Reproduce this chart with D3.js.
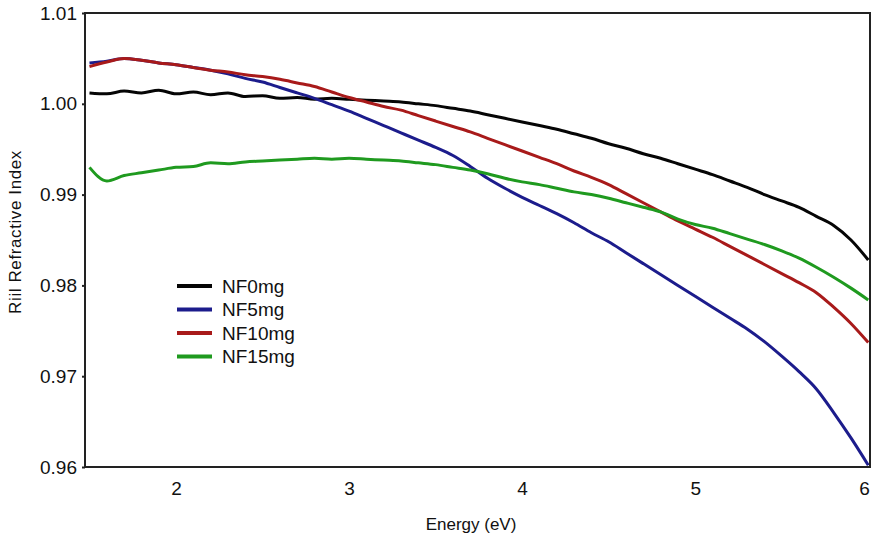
<!DOCTYPE html>
<html>
<head>
<meta charset="utf-8">
<script src="https://cdn.jsdelivr.net/npm/d3@7"></script>
<style>
  body { margin: 0; background: #fff; }
  text { font-family: "Liberation Sans", Arial, sans-serif; fill: #111; }
</style>
</head>
<body>
<script>
// energy grid (eV) shared by all series
var energy = [1.5, 1.6, 1.7, 1.8, 1.9, 2.0, 2.1, 2.2, 2.3, 2.4,
              2.5, 2.6, 2.7, 2.8, 2.9, 3.0, 3.1, 3.2, 3.3, 3.4,
              3.5, 3.6, 3.7, 3.8, 3.9, 4.0, 4.1, 4.2, 4.3, 4.4,
              4.5, 4.6, 4.7, 4.8, 4.9, 5.0, 5.1, 5.2, 5.3, 5.4,
              5.5, 5.6, 5.7, 5.8, 5.9, 6.0];

var nf0 = [1.0012, 1.0011, 1.0014, 1.0012, 1.0015, 1.0011, 1.0013, 1.0010, 1.0012, 1.0008,
           1.0009, 1.0006, 1.0007, 1.0005, 1.0006, 1.0005, 1.0004, 1.0003, 1.0002, 1.0000,
           0.9998, 0.9995, 0.9992, 0.9988, 0.9984, 0.9980, 0.9976, 0.9972, 0.9967, 0.9962,
           0.9956, 0.9951, 0.9945, 0.9940, 0.9934, 0.9928, 0.9922, 0.9915, 0.9908, 0.9900,
           0.9893, 0.9886, 0.9876, 0.9866, 0.9850, 0.9828];

var nf5 = [1.0045, 1.0047, 1.0050, 1.0048, 1.0045, 1.0043, 1.0040, 1.0037, 1.0033, 1.0028,
           1.0024, 1.0018, 1.0012, 1.0006, 0.9999, 0.9992, 0.9984, 0.9976, 0.9968, 0.9960,
           0.9952, 0.9943, 0.9931, 0.9918, 0.9907, 0.9897, 0.9888, 0.9879, 0.9869, 0.9858,
           0.9848, 0.9836, 0.9824, 0.9812, 0.9800, 0.9788, 0.9776, 0.9764, 0.9752, 0.9738,
           0.9722, 0.9705, 0.9686, 0.9660, 0.9632, 0.9602];

var nf10 = [1.0041, 1.0046, 1.0050, 1.0048, 1.0045, 1.0043, 1.0040, 1.0037, 1.0035, 1.0032,
            1.0030, 1.0027, 1.0023, 1.0019, 1.0013, 1.0007, 1.0002, 0.9997, 0.9993, 0.9987,
            0.9981, 0.9975, 0.9969, 0.9962, 0.9955, 0.9948, 0.9941, 0.9934, 0.9926, 0.9919,
            0.9911, 0.9901, 0.9891, 0.9881, 0.9871, 0.9862, 0.9853, 0.9843, 0.9833, 0.9823,
            0.9813, 0.9803, 0.9792, 0.9776, 0.9758, 0.9737];

var nf15 = [0.9930, 0.9915, 0.9921, 0.9924, 0.9927, 0.9930, 0.9931, 0.9935, 0.9934, 0.9936,
            0.9937, 0.9938, 0.9939, 0.9940, 0.9939, 0.9940, 0.9939, 0.9938, 0.9937, 0.9935,
            0.9933, 0.9930, 0.9927, 0.9923, 0.9918, 0.9914, 0.9911, 0.9907, 0.9903, 0.9900,
            0.9896, 0.9891, 0.9886, 0.9881, 0.9873, 0.9867, 0.9863, 0.9857, 0.9851, 0.9845,
            0.9838, 0.9830, 0.9820, 0.9809, 0.9797, 0.9784];

var seriesNames = ["NF0mg", "NF5mg", "NF10mg", "NF15mg"];
var seriesValues = [nf0, nf5, nf10, nf15];
var seriesColors = ["#050505", "#1c1c8c", "#a81a1a", "#1f9a1f"];

var xTicks = [2, 3, 4, 5, 6];
var yTicks = [0.96, 0.97, 0.98, 0.99, 1.00, 1.01];

var width = 872,
    height = 542,
    plotLeft = 85, plotTop = 13, plotRight = 870, plotBottom = 467;

var svg = d3.select("body").append("svg")
    .attr("width", width)
    .attr("height", height);

var x = d3.scaleLinear().domain([1.474, 6.01]).range([plotLeft, plotRight]);
var y = d3.scaleLinear().domain([0.96, 1.01]).range([plotBottom, plotTop]);

// frame
svg.append("rect")
    .attr("x", plotLeft)
    .attr("y", plotTop)
    .attr("width", plotRight - plotLeft)
    .attr("height", plotBottom - plotTop)
    .attr("fill", "none")
    .attr("stroke", "#222")
    .attr("stroke-width", 2);

var xAxis = svg.append("g")
    .attr("transform", "translate(0," + plotBottom + ")")
    .call(d3.axisBottom(x).tickValues(xTicks).tickSize(0).tickPadding(15).tickFormat(d3.format("d")));
xAxis.select(".domain").remove();
// last label would run past the edge, so anchor it at its right side
xAxis.selectAll("text").style("font-size", "19px")
    .attr("text-anchor", function (d) { return d === 6 ? "end" : "middle"; })
    .attr("dx", function (d) { return d === 6 ? "0.05em" : 0; });

var yAxis = svg.append("g")
    .attr("transform", "translate(" + plotLeft + ",0)")
    .call(d3.axisLeft(y).tickValues(yTicks).tickSize(3).tickPadding(5).tickFormat(d3.format(".2f")));
yAxis.select(".domain").remove();
yAxis.selectAll("line").attr("stroke", "#222").attr("stroke-width", 2);
yAxis.selectAll("text").style("font-size", "19px");

svg.append("text")
    .attr("x", 471)
    .attr("y", 530)
    .attr("text-anchor", "middle")
    .style("font-size", "17px")
    .text("Energy (eV)");

svg.append("text")
    .attr("transform", "translate(21,232) rotate(-90)")
    .attr("text-anchor", "middle")
    .style("font-size", "17px")
    .style("letter-spacing", "0.6px")
    .text("Riil Refractive Index");

var line = d3.line()
    .x(function (d) { return x(d[0]); })
    .y(function (d) { return y(d[1]); })
    .curve(d3.curveMonotoneX);

svg.append("g").selectAll("path")
    .data(seriesValues)
    .enter().append("path")
    .attr("d", function (vals) {
        return line(vals.map(function (v, i) { return [energy[i], v]; }));
    })
    .attr("fill", "none")
    .attr("stroke", function (d, i) { return seriesColors[i]; })
    .attr("stroke-width", 3)
    .attr("stroke-linejoin", "round");

// legend
var legend = svg.append("g").attr("transform", "translate(177,286)");
var item = legend.selectAll("g")
    .data(seriesNames)
    .enter().append("g")
    .attr("transform", function (d, i) { return "translate(0," + i * 23.5 + ")"; });
item.append("line")
    .attr("x1", 0).attr("x2", 35)
    .attr("stroke", function (d, i) { return seriesColors[i]; })
    .attr("stroke-width", 4);
item.append("text")
    .attr("x", 45)
    .attr("dy", "0.36em")
    .style("font-size", "19px")
    .text(function (d) { return d; });
</script>
</body>
</html>
